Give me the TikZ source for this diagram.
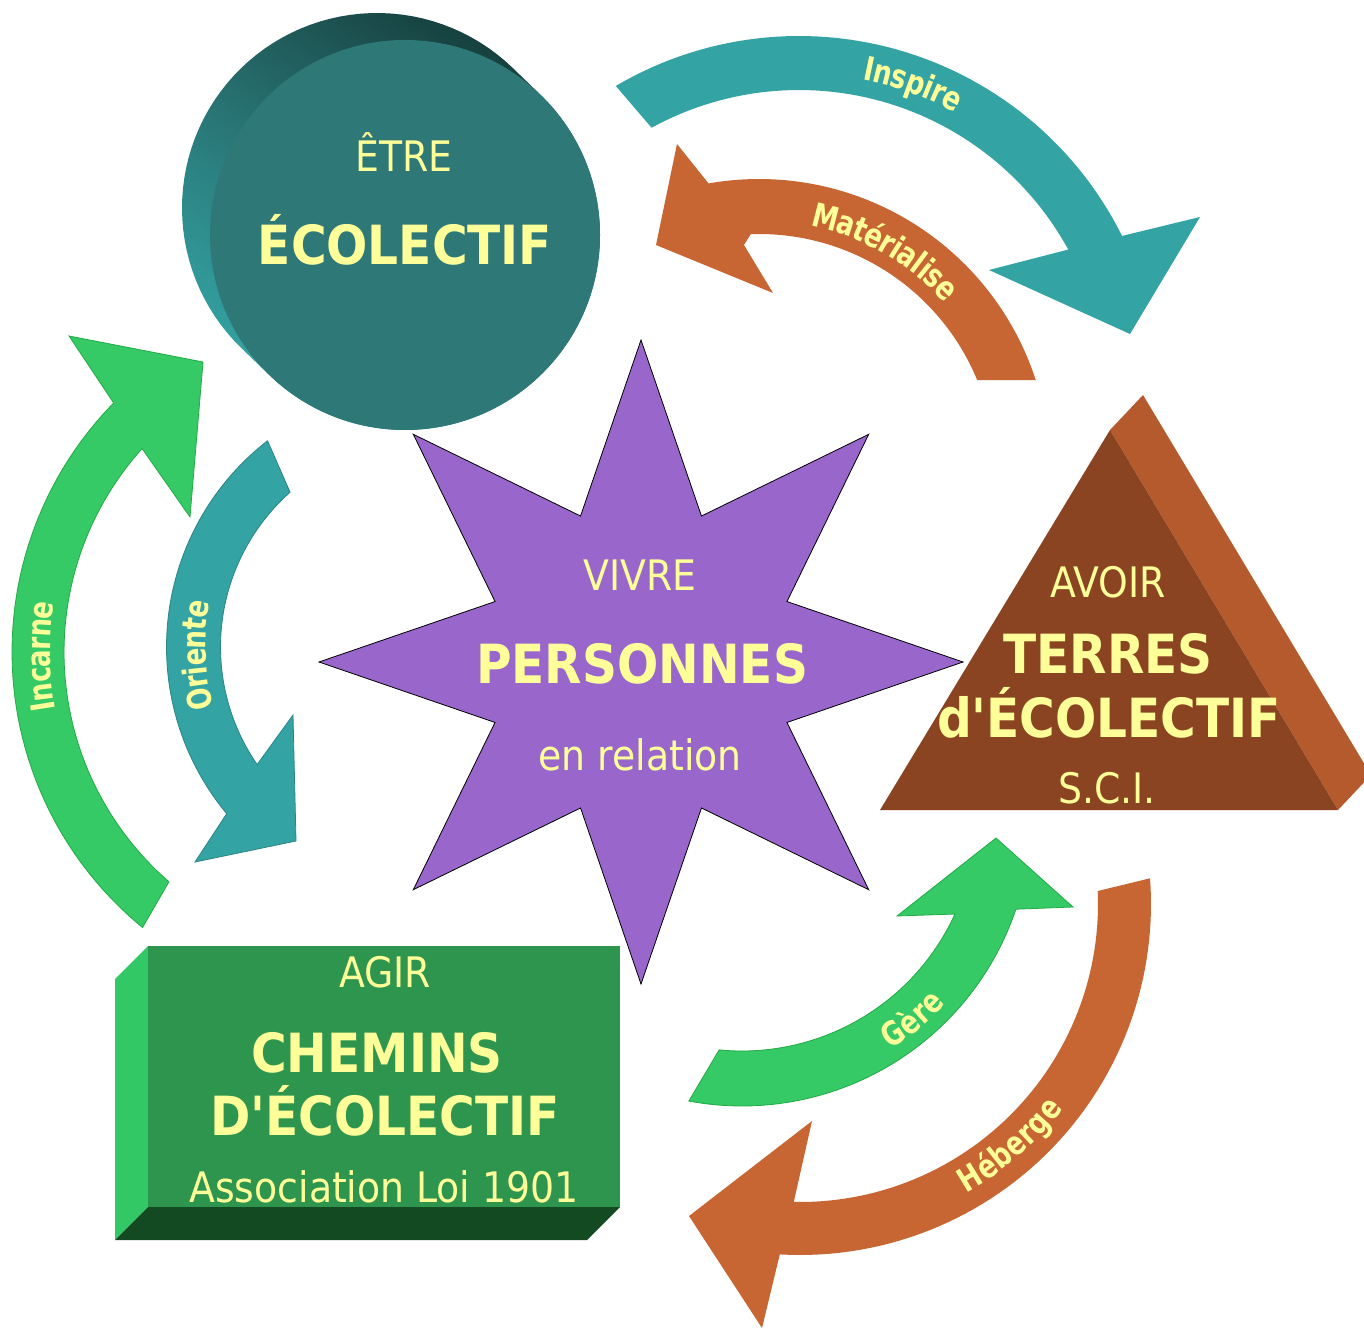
\documentclass[tikz,border=0pt]{standalone}
\usepackage{fontspec}
\newfontfamily\dvs{DejaVu Sans Condensed}
\newfontfamily\dvsn{DejaVu Sans Condensed}[FakeStretch=0.88]
\usetikzlibrary{decorations.text}
\definecolor{txt}{HTML}{FFFF99}
\definecolor{tealA}{HTML}{33A3A3}
\definecolor{tealB}{HTML}{2B8585}
\definecolor{orangeA}{HTML}{C86633}
\definecolor{greenA}{HTML}{35CA66}
\definecolor{greenB}{HTML}{22AA44}
\definecolor{circfront}{HTML}{2E7878}
\definecolor{circlight}{HTML}{34A4A4}
\definecolor{circmid}{HTML}{287272}
\definecolor{circdark}{HTML}{153E3C}
\definecolor{starc}{HTML}{9966CC}
\definecolor{trifront}{HTML}{8B4422}
\definecolor{triside}{HTML}{B55A2D}
\definecolor{boxfront}{HTML}{2E954F}
\definecolor{boxleft}{HTML}{33C866}
\definecolor{boxbottom}{HTML}{134A22}
\newcommand\lblfont{\dvsn\bfseries\fontsize{33}{35}\selectfont\color{txt}}
\tikzset{
  reg/.style={text=txt, font=\dvs\fontsize{42}{45}\selectfont, anchor=base, inner sep=0pt},
  big/.style={text=txt, font=\dvs\bfseries\fontsize{54}{58}\selectfont, anchor=base, inner sep=0pt},
  lbl/.style={decorate, decoration={text along path, text align=center, raise=-12pt, text={|\lblfont|#1}}},
  tealarrow/.style={fill=tealA},
  orangearrow/.style={fill=orangeA},
  greenarrow/.style={fill=greenA, draw=greenB, line width=0.8pt},
}
\begin{document}
\begin{tikzpicture}[x=1pt,y=-1pt]
\useasboundingbox (0,0) rectangle (1364,1329);
\clip (0,0) rectangle (1364,1329);
\fill[white] (0,0) rectangle (1364,1329);

% ---------- circle ETRE ----------
\shade[top color=circdark, bottom color=circlight, middle color=circmid, shading angle=-35]
  plot[domain=46:226,samples=60] ({377+195*cos(\x)},{208-195*sin(\x)})
  -- plot[domain=226:406,samples=60] ({405+195*cos(\x)},{235-195*sin(\x)}) -- cycle;
\fill[circfront] (405,235) circle[radius=195];
\node[reg] (etre) at (404,172) {ÊTRE};
\node[big] (ecol) at (405,265) {ÉCOLECTIF};

% ---------- triangle AVOIR ----------
\fill[triside] (1110,430) -- (1143,395) -- (1371,775) -- (1338,810) -- cycle;
\fill[trifront] (1110,430) -- (880,810) -- (1338,810) -- cycle;
\node[reg] (avoir) at (1108,597) {AVOIR};
\node[big] (terres) at (1108,673) {TERRES};
\node[big] (decol) at (1109,737) {d'ÉCOLECTIF};
\node[reg] (sci) at (1107,803) {S.C.I.};

% ---------- box AGIR ----------
\fill[boxleft] (148,946) -- (115,979) -- (115,1240) -- (148,1207) -- cycle;
\fill[boxbottom] (148,1207) -- (620,1207) -- (587,1240) -- (115,1240) -- cycle;
\fill[boxfront] (148,946) rectangle (620,1207);
\node[reg] (agir) at (385,987) {AGIR};
\node[big] (chemins) at (377,1072) {CHEMINS};
\node[big] (Decol) at (385,1135) {D'ÉCOLECTIF};
\node[reg] (assoc) at (384,1202) {Association Loi 1901};

% ---------- star VIVRE ----------
\filldraw[fill=starc, draw=black, line width=0.8pt]
  plot[samples at={0,22.5,...,337.5}] ({641+(240+82*cos(8*\x))*cos(\x)},{662-(240+82*cos(8*\x))*sin(\x)}) -- cycle;
\node[reg] (vivre) at (640,590) {VIVRE};
\node[big] (pers) at (642,683) {PERSONNES};
\node[reg] (enrel) at (640,770) {en relation};

% ---------- arrows ----------
% Inspire
\path[tealarrow] plot[domain=120.5:26.5,samples=60] ({799+361*cos(\x)},{397-361*sin(\x)})
  -- (1200,217) -- (1130,334) -- (989,270)
  -- plot[domain=28.7:118.7,samples=60] ({799+307*cos(\x)},{397-307*sin(\x)}) -- cycle;
\path[lbl=Inspire] plot[domain=110:30,samples=40] ({799+336*cos(\x)},{397-336*sin(\x)});

% Materialise
\path[orangearrow] plot[domain=18:100,samples=60] ({759+291*cos(\x)},{470-291*sin(\x)})
  -- (677,144) -- (656,245) -- (773,293) -- (744,245)
  -- plot[domain=92:22.4,samples=60] ({759+236*cos(\x)},{470-236*sin(\x)}) -- cycle;
\path[lbl=Matérialise] plot[domain=115:5,samples=50] ({759+262*cos(\x)},{470-262*sin(\x)});

% Incarne
\path[greenarrow] plot[domain=230.7:135.6,samples=60] ({368+356*cos(\x)},{652-356*sin(\x)})
  -- (69,336) -- (203,362) -- (190,517)
  -- plot[domain=138:229.1,samples=60] ({368+304*cos(\x)},{652-304*sin(\x)}) -- cycle;
\path[lbl=Incarne] plot[domain=220.7:140.7,samples=40] ({368+330*cos(\x)},{652-330*sin(\x)});

% Oriente
\path[tealarrow, draw=tealB, line width=0.8pt] plot[domain=127.8:219.7,samples=60] ({427.5+261*cos(\x)},{647-261*sin(\x)})
  -- (195,862) -- (296,841) -- (293,715)
  -- plot[domain=214.6:131.6,samples=60] ({427.5+207*cos(\x)},{647-207*sin(\x)}) -- cycle;
\path[lbl=Oriente] plot[domain=222:142,samples=40] ({427.5+234*cos(\x)},{647-234*sin(\x)});

% Gere
\path[greenarrow] plot[domain=-100.6:-18.6,samples=60] ({742+289*cos(\x)},{817-289*sin(\x)})
  -- (1073,907) -- (996,838) -- (897,916)
  -- plot[domain=-24.5:-95.6,samples=60] ({742+234*cos(\x)},{817-234*sin(\x)}) -- cycle;
\path[lbl=Gère] plot[domain=-90:-10,samples=40] ({742+264*cos(\x)},{817-264*sin(\x)});

% Heberge
\path[orangearrow] plot[domain=4.2:-93.3,samples=60] ({800+351*cos(\x)},{904-351*sin(\x)})
  -- (762,1328) -- (689,1216) -- (812,1121)
  -- plot[domain=-91.2:2.5,samples=60] ({800+298*cos(\x)},{904-298*sin(\x)}) -- cycle;
\path[lbl=Héberge] plot[domain=-95:-3,samples=40] ({800+322*cos(\x)},{904-322*sin(\x)});
\end{tikzpicture}
\end{document}
